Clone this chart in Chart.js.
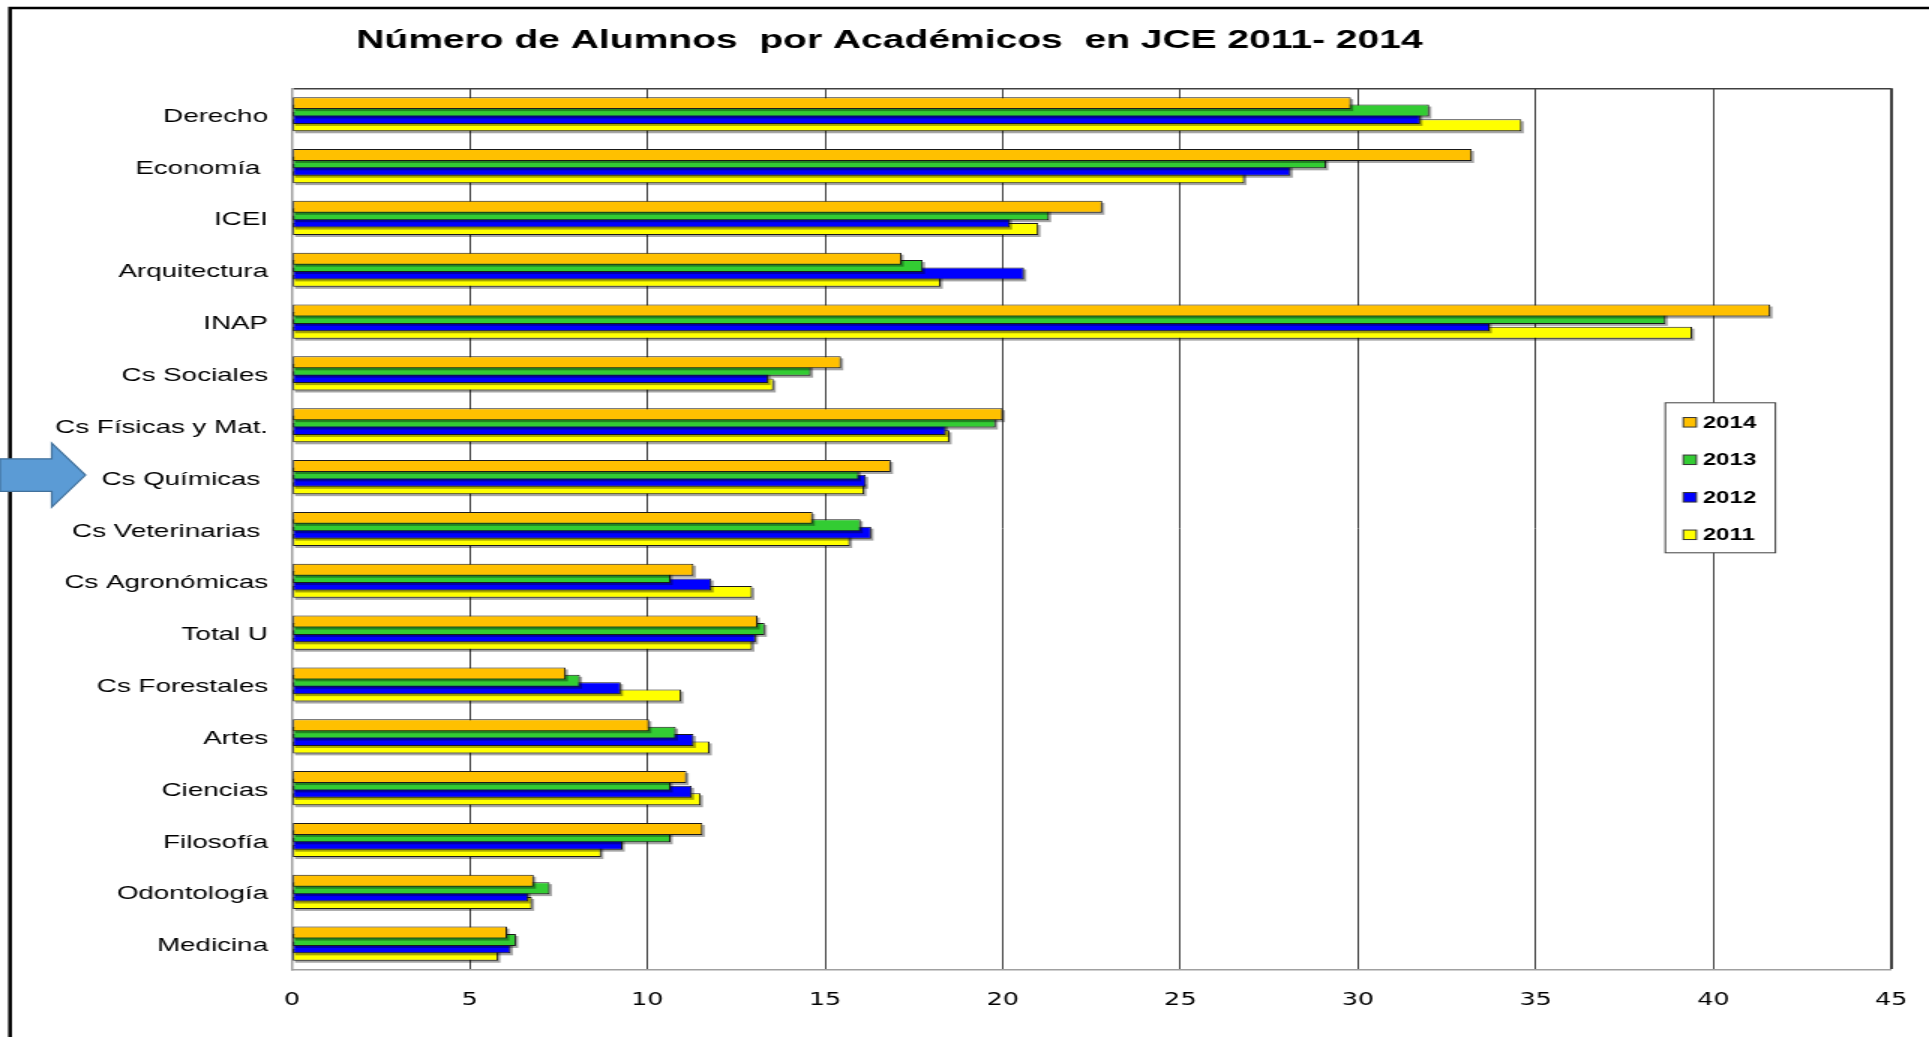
<!DOCTYPE html>
<html>
<head>
<meta charset="utf-8">
<title>Número de Alumnos por Académicos en JCE 2011- 2014</title>
<script src="https://cdn.jsdelivr.net/npm/chart.js"></script>
<style>
    html, body { margin: 0; padding: 0; background: #fff; overflow: hidden; }
    /* the original picture is stretched sideways: draw narrow, then widen */
    .stretch {
        width: 1286px;
        height: 1037px;
        transform: scaleX(1.5);
        transform-origin: 0 0;
    }
</style>
</head>
<body>
<div class="stretch"><canvas id="alumnosChart"></canvas></div>
<script>
    const chartTitle = 'Número de Alumnos  por Académicos  en JCE 2011- 2014';

    const categories = [
        'Derecho', 'Economía ', 'ICEI', 'Arquitectura', 'INAP', 'Cs Sociales',
        'Cs Físicas y Mat.', 'Cs Químicas ', 'Cs Veterinarias ', 'Cs Agronómicas',
        'Total U', 'Cs Forestales', 'Artes', 'Ciencias', 'Filosofía', 'Odontología', 'Medicina'
    ];
    const years = ['2014', '2013', '2012', '2011'];
    const yearColors = ['#FFC000', '#33CC33', '#0000FF', '#FFFF00'];

    const v2014 = [29.8, 33.2, 22.8, 17.15, 41.6, 15.45, 20.0, 16.85, 14.65, 11.3, 13.1, 7.7, 10.05, 11.1, 11.55, 6.8, 6.05];
    const v2013 = [32.0, 29.1, 21.3, 17.75, 38.65, 14.6, 19.8, 15.95, 16.0, 10.65, 13.3, 8.1, 10.8, 10.65, 10.65, 7.25, 6.3];
    const v2012 = [31.75, 28.1, 20.2, 20.6, 33.7, 13.4, 18.4, 16.15, 16.3, 11.8, 13.05, 9.25, 11.3, 11.25, 9.3, 6.65, 6.15];
    const v2011 = [34.6, 26.8, 21.0, 18.25, 39.4, 13.55, 18.5, 16.1, 15.7, 12.95, 12.95, 10.95, 11.75, 11.5, 8.7, 6.75, 5.8];
    const xTicks = [0, 5, 10, 15, 20, 25, 30, 35, 40, 45];

    const seriesValues = [v2014, v2013, v2012, v2011];
    const highlighted = 'Cs Químicas ';

    // grey drop shadow under each bar, drawn just before its own dataset
    const barShadow = {
        id: 'barShadow',
        beforeDatasetDraw(chart, args) {
            const ctx = chart.ctx;
            ctx.save();
            ctx.fillStyle = 'rgba(0,0,0,0.35)';
            args.meta.data.forEach((bar) => {
                const p = bar.getProps(['x', 'y', 'base', 'height'], true);
                ctx.fillRect(Math.min(p.base, p.x) + 1.5, p.y - p.height / 2 + 2, Math.abs(p.x - p.base), p.height);
            });
            ctx.restore();
        }
    };

    // frame, title, boxed legend and the blue arrow
    const decorations = {
        id: 'decorations',
        beforeDraw(chart) {
            const ctx = chart.ctx;
            ctx.save();
            ctx.fillStyle = '#fff';
            ctx.fillRect(0, 0, chart.width, chart.height);
            ctx.restore();
        },
        afterDraw(chart) {
            const ctx = chart.ctx;
            const area = chart.chartArea;
            ctx.save();

            // outer frame
            ctx.strokeStyle = '#000';
            ctx.lineWidth = 2.5;
            ctx.beginPath();
            ctx.moveTo(chart.width, 8);
            ctx.lineTo(6.7, 8);
            ctx.lineTo(6.7, chart.height);
            ctx.stroke();

            // title
            ctx.fillStyle = '#000';
            ctx.font = 'bold 26px "Liberation Sans", Arial, sans-serif';
            ctx.textAlign = 'left';
            ctx.textBaseline = 'middle';
            ctx.fillText(chartTitle, 237.5, 41);

            // legend box
            const left = area.right - 150.5;
            const top = area.top + 314.5;
            const w = 73.4;
            const h = 150;
            ctx.fillStyle = '#fff';
            ctx.fillRect(left, top, w, h);
            ctx.strokeStyle = '#404040';
            ctx.lineWidth = 1;
            ctx.strokeRect(left, top, w, h);
            ctx.font = 'bold 16px "Liberation Sans", Arial, sans-serif';
            chart.data.datasets.forEach((ds, i) => {
                const cy = top + 19.5 + i * 37.5;
                ctx.fillStyle = ds.backgroundColor;
                ctx.fillRect(left + 12, cy - 4.75, 8.7, 9.5);
                ctx.strokeStyle = '#333';
                ctx.strokeRect(left + 12, cy - 4.75, 8.7, 9.5);
                ctx.fillStyle = '#000';
                ctx.fillText(ds.label, left + 25, cy + 1);
            });

            // arrow pointing at the highlighted faculty
            const cy = chart.scales.y.getPixelForValue(categories.indexOf(highlighted)) - 2;
            ctx.beginPath();
            ctx.moveTo(0, cy - 16.3);
            ctx.lineTo(34.5, cy - 16.3);
            ctx.lineTo(34.5, cy - 32);
            ctx.lineTo(57, cy);
            ctx.lineTo(34.5, cy + 32);
            ctx.lineTo(34.5, cy + 16.3);
            ctx.lineTo(0, cy + 16.3);
            ctx.closePath();
            ctx.fillStyle = '#5B9BD5';
            ctx.fill();
            ctx.strokeStyle = '#41719C';
            ctx.lineWidth = 1.2;
            ctx.stroke();

            ctx.restore();
        }
    };

    const ctx = document.getElementById('alumnosChart').getContext('2d');

    new Chart(ctx, {
        type: 'bar',
        data: {
            labels: categories,
            datasets: years.map((year, i) => ({
                label: year,
                data: seriesValues[i],
                backgroundColor: yearColors[i],
                borderColor: '#1a1a1a',
                borderWidth: 1,
                borderSkipped: false,
                categoryPercentage: 0.57,
                barPercentage: 1.62,
            })),
        },
        options: {
            indexAxis: 'y',
            responsive: true,
            maintainAspectRatio: false,
            animation: false,
            layout: {
                padding: { left: 30.7, top: 88.3, right: 25.3, bottom: 5 },
            },
            plugins: {
                legend: { display: false },
                title: { display: false },
                tooltip: { enabled: false },
            },
            scales: {
                x: {
                    min: 0,
                    max: 45,
                    afterBuildTicks: (scale) => {
                        scale.ticks = xTicks.map((v) => ({ value: v }));
                    },
                    afterFit: (scale) => {
                        // the layout padding already leaves room for the end labels
                        scale.paddingLeft = 0;
                        scale.paddingRight = 0;
                    },
                    grid: {
                        color: (c) => (c.tick && c.tick.value === 0 ? 'rgba(0,0,0,0)' : '#404040'),
                        lineWidth: (c) => (c.tick && c.tick.value === 45 ? 2 : 1),
                        drawTicks: false,
                    },
                    border: { display: true, color: '#a0a0a0', width: 1.5 },
                    ticks: {
                        color: '#000',
                        padding: 21,
                        font: { family: '"DejaVu Sans", Verdana, sans-serif', size: 17 },
                    },
                },
                y: {
                    afterFit: (scale) => {
                        scale.width = 164;
                    },
                    grid: {
                        color: (c) => (c.index === 0 ? '#404040' : 'rgba(0,0,0,0)'),
                        lineWidth: 1.5,
                        drawTicks: false,
                    },
                    border: { display: true, color: '#a0a0a0', width: 1.5 },
                    ticks: {
                        color: '#000',
                        padding: 16,
                        labelOffset: 2.5,
                        autoSkip: false,
                        font: { family: '"Liberation Sans", Arial, sans-serif', size: 18.5 },
                    },
                },
            },
        },
        plugins: [barShadow, decorations],
    });
</script>
</body>
</html>
